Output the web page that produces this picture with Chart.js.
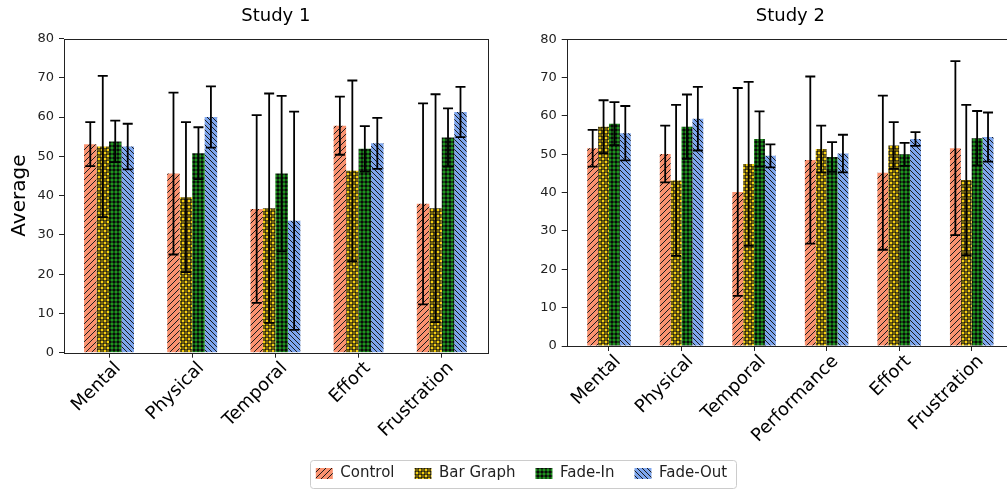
<!DOCTYPE html>
<html lang="en">
<head>
<meta charset="UTF-8" />
<title>Study 1 / Study 2 averages</title>
<script src="https://cdn.jsdelivr.net/npm/chart.js"></script>
<style>
  html, body { margin: 0; padding: 0; background: #fff; }
  body { width: 1007px; height: 491px; overflow: hidden; position: relative; }
  canvas { position: absolute; top: 0; }
  #left { left: 0; }
  #right { left: 510px; }
  #legend { left: 0; top: 446px; }
</style>
</head>
<body>
<canvas id="left" width="500" height="455"></canvas>
<canvas id="right" width="510" height="455"></canvas>
<canvas id="legend" width="1043" height="90"></canvas>
<script>
  const seriesNames = ['Control', 'Bar Graph', 'Fade-In', 'Fade-Out'];
  const yTickValues = [0, 10, 20, 30, 40, 50, 60, 70, 80];

  // Study 1
  const study1Categories = ['Mental', 'Physical', 'Temporal', 'Effort', 'Frustration'];
  const s1Control     = [53.1, 45.6, 36.6, 57.8, 37.9];
  const s1ControlErr  = [5.6, 20.6, 23.9, 7.4, 25.6];
  const s1BarGraph    = [52.5, 39.6, 36.8, 46.3, 36.8];
  const s1BarGraphErr = [18.0, 19.1, 29.2, 23.0, 29.0];
  const s1FadeIn      = [53.8, 50.8, 45.6, 51.9, 54.8];
  const s1FadeInErr   = [5.3, 6.6, 19.8, 5.8, 7.4];
  const s1FadeOut     = [52.5, 60.0, 33.6, 53.3, 61.3];
  const s1FadeOutErr  = [5.8, 7.8, 27.8, 6.5, 6.4];

  // Study 2
  const study2Categories = ['Mental', 'Physical', 'Temporal', 'Performance', 'Effort', 'Frustration'];
  const s2Control     = [51.6, 50.1, 40.2, 48.5, 45.2, 51.6];
  const s2ControlErr  = [4.8, 7.4, 27.1, 21.8, 20.1, 22.7];
  const s2BarGraph    = [57.2, 43.2, 47.5, 51.4, 52.3, 43.3];
  const s2BarGraphErr = [6.9, 19.7, 21.4, 6.1, 6.1, 19.6];
  const s2FadeIn      = [58.0, 57.2, 54.0, 49.3, 50.0, 54.2];
  const s2FadeInErr   = [5.6, 8.4, 7.2, 3.9, 3.0, 7.1];
  const s2FadeOut     = [55.5, 59.3, 49.6, 50.2, 54.0, 54.5];
  const s2FadeOutErr  = [7.1, 8.3, 3.0, 4.9, 1.8, 6.4];

  const FONT = "'DejaVu Sans', sans-serif";
  const INK = '#000';

  // hatch fills, like matplotlib's hatch= patterns
  function makePattern(size, bg, draw) {
    const c = document.createElement('canvas');
    c.width = c.height = size;
    const g = c.getContext('2d');
    g.fillStyle = bg;
    g.fillRect(0, 0, size, size);
    draw(g, size);
    return g.createPattern(c, 'repeat');
  }
  function diagonal(dir) {
    return (g, s) => {
      g.strokeStyle = '#1a1a1a';
      g.lineWidth = 1;
      g.beginPath();
      for (let k = -1; k <= 1; k++) {
        if (dir > 0) { g.moveTo(k * s, s); g.lineTo(k * s + s, 0); }
        else { g.moveTo(k * s, 0); g.lineTo(k * s + s, s); }
      }
      g.stroke();
    };
  }
  const patterns = [
    makePattern(6, '#fa9270', diagonal(1)),
    makePattern(6, '#f5cf10', (g) => {
      g.strokeStyle = '#111';
      g.lineWidth = 1;
      [[0, 0], [6, 0], [0, 6], [6, 6], [3, 3]].forEach(([x, y]) => {
        g.beginPath(); g.arc(x, y, 2, 0, Math.PI * 2); g.stroke();
      });
    }),
    makePattern(4, '#22a322', (g) => {
      g.fillStyle = '#0a0a0a';
      g.beginPath(); g.arc(2, 2, 1.75, 0, Math.PI * 2); g.fill();
    }),
    makePattern(5, '#7ea6ee', diagonal(-1))
  ];

  const errorBars = {
    id: 'errorBars',
    afterDatasetsDraw(chart) {
      const ctx = chart.ctx;
      const y = chart.scales.y;
      ctx.save();
      ctx.strokeStyle = '#000';
      ctx.lineWidth = 1.8;
      chart.data.datasets.forEach((ds, i) => {
        chart.getDatasetMeta(i).data.forEach((bar, j) => {
          const v = ds.data[j].y, e = ds.errors[j];
          const x = bar.x, top = y.getPixelForValue(v + e), bot = y.getPixelForValue(v - e);
          ctx.beginPath();
          ctx.moveTo(x, top); ctx.lineTo(x, bot);
          ctx.moveTo(x - 5, top); ctx.lineTo(x + 5, top);
          ctx.moveTo(x - 5, bot); ctx.lineTo(x + 5, bot);
          ctx.stroke();
        });
      });
      ctx.restore();
    }
  };

  const frame = {
    id: 'frame',
    afterDraw(chart) {
      const { ctx, chartArea: a } = chart;
      ctx.save();
      ctx.strokeStyle = '#222';
      ctx.lineWidth = 1;
      ctx.strokeRect(Math.round(a.left) + 0.5, Math.round(a.top) + 0.5,
        Math.round(a.right - a.left), Math.round(a.bottom - a.top));
      ctx.restore();
    }
  };

  function studyChart(id, title, cats, values, errs, xMin, xMax, box) {
    return new Chart(document.getElementById(id), {
      type: 'bar',
      data: {
        datasets: seriesNames.map((name, i) => ({
          label: name,
          data: values[i].map((v, k) => ({ x: k, y: v })),
          errors: errs[i],
          backgroundColor: patterns[i],
          borderWidth: 0,
          categoryPercentage: 0.6,
          barPercentage: 1.0
        }))
      },
      options: {
        responsive: false,
        animation: false,
        devicePixelRatio: 1,
        layout: { padding: { left: 0, right: box.padRight, top: 0, bottom: 0 } },
        plugins: {
          legend: { display: false },
          tooltip: { enabled: false },
          title: {
            display: true,
            text: title,
            fullSize: false,
            color: INK,
            font: { family: FONT, size: 18, weight: 'normal', lineHeight: 1.2 },
            padding: { top: 6, bottom: box.titleBottom }
          }
        },
        scales: {
          x: {
            type: 'linear',
            offset: false,
            min: xMin,
            max: xMax,
            afterBuildTicks: (s) => { s.ticks = cats.map((c, k) => ({ value: k })); },
            afterFit: (s) => { s.height = box.xHeight; },
            grid: { offset: false, drawOnChartArea: false, drawTicks: true, tickLength: 5, color: '#222' },
            border: { display: false },
            ticks: {
              autoSkip: false,
              minRotation: 45,
              maxRotation: 45,
              padding: 0,
              labelOffset: 9,
              color: INK,
              font: { family: FONT, size: 18 },
              callback: (v) => cats[v]
            }
          },
          y: {
            min: 0,
            max: 80,
            afterBuildTicks: (s) => { s.ticks = yTickValues.map((v) => ({ value: v })); },
            afterFit: (s) => { s.width = box.yWidth; },
            grid: { drawOnChartArea: false, drawTicks: true, tickLength: 5, color: '#222' },
            border: { display: false },
            ticks: { padding: 5, color: '#222', font: { family: FONT, size: 13 } },
            title: {
              display: box.yTitle,
              text: 'Average',
              color: INK,
              font: { family: FONT, size: 20 },
              padding: { top: 8, bottom: 0 }
            }
          }
        }
      },
      plugins: [errorBars, frame]
    });
  }

  studyChart('left', 'Study 1', study1Categories,
    [s1Control, s1BarGraph, s1FadeIn, s1FadeOut],
    [s1ControlErr, s1BarGraphErr, s1FadeInErr, s1FadeOutErr],
    -0.541, 4.552,
    { padRight: 12.3, yWidth: 64, xHeight: 455 - 352.7, titleBottom: 38.5 - 21.6 - 6, yTitle: true });

  studyChart('right', 'Study 2', study2Categories,
    [s2Control, s2BarGraph, s2FadeIn, s2FadeOut],
    [s2ControlErr, s2BarGraphErr, s2FadeInErr, s2FadeOutErr],
    -0.583, 5.583,
    { padRight: 6, yWidth: 56.7, xHeight: 455 - 346, titleBottom: 39.3 - 21.6 - 6, yTitle: false });

  // shared legend underneath both panels
  const legendFrame = {
    id: 'legendFrame',
    afterDraw(chart) {
      const hb = chart.legend.legendHitBoxes;
      if (!hb.length) return;
      const l = Math.min(...hb.map((b) => b.left)) - 6;
      const r = Math.max(...hb.map((b) => b.left + b.width)) + 9;
      const t = hb[0].top - 6, btm = hb[0].top + hb[0].height + 7;
      const ctx = chart.ctx;
      ctx.save();
      ctx.strokeStyle = '#cccccc';
      ctx.lineWidth = 1;
      ctx.beginPath();
      ctx.roundRect(Math.round(l) + 0.5, Math.round(t) + 0.5, Math.round(r - l), Math.round(btm - t), 3);
      ctx.stroke();
      ctx.restore();
    }
  };

  new Chart(document.getElementById('legend'), {
    type: 'bar',
    data: {
      datasets: seriesNames.map((name, i) => ({ label: name, data: [], backgroundColor: patterns[i], borderWidth: 0 }))
    },
    options: {
      responsive: false,
      animation: false,
      devicePixelRatio: 1,
      scales: { x: { display: false }, y: { display: false } },
      plugins: {
        tooltip: { enabled: false },
        legend: {
          display: true,
          position: 'top',
          labels: {
            boxWidth: 17,
            boxHeight: 11,
            padding: 20,
            color: '#222',
            font: { family: FONT, size: 15 }
          }
        }
      }
    },
    plugins: [legendFrame]
  });
</script>
</body>
</html>
